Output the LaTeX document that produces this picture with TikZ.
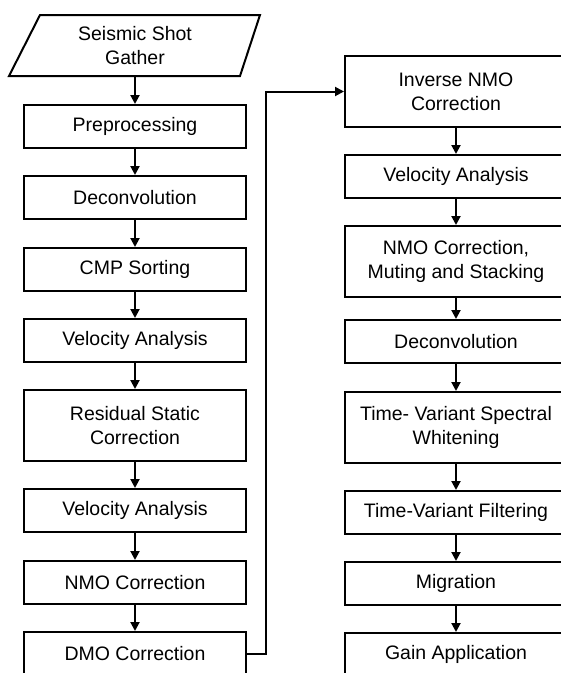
\documentclass[tikz,border=0pt]{standalone}
\usepackage{fontspec}
\setmainfont{Liberation Sans}
\usetikzlibrary{arrows.meta}
\begin{document}
\begin{tikzpicture}[x=1pt,y=-1pt,
  lbl/.style={align=center, inner sep=0pt, font=\fontsize{19.5}{24}\selectfont},
  stepbox/.style={lbl, draw, line width=2pt, minimum width=222pt, minimum height=43pt, anchor=north},
  tallbox/.style={stepbox, minimum height=71pt},
  flow/.style={line width=2pt, -{Triangle[length=9pt,width=9pt]}}]
\useasboundingbox (0,0) rectangle (561,673);
\clip (0,0) rectangle (561,673);

% input: seismic shot gather (parallelogram)
\draw[line width=2pt, line join=miter] (40,15) -- (260,15) -- (240,76) -- (9,76) -- cycle;
\node[lbl, minimum width=200pt, minimum height=61pt] (src) at (135,45.5) {Seismic Shot\\Gather};

% first processing sequence
\node[stepbox] (pre)  at (135,104) {Preprocessing};
\node[stepbox] (dec1) at (135,175) {Deconvolution};
\node[stepbox] (cmp)  at (135,247) {CMP Sorting};
\node[stepbox] (vel1) at (135,318) {Velocity Analysis};
\node[tallbox] (res)  at (135,389) {Residual Static\\Correction};
\node[stepbox] (vel2) at (135,488) {Velocity Analysis};
\node[stepbox] (nmo)  at (135,560) {NMO Correction};
\node[stepbox] (dmo)  at (135,631) {DMO Correction};

% second processing sequence
\node[tallbox] (inv)   at (456,55)  {Inverse NMO\\Correction};
\node[stepbox] (vel3)  at (456,154) {Velocity Analysis};
\node[tallbox] (stack) at (456,225) {NMO Correction,\\Muting and Stacking};
\node[stepbox] (dec2)  at (456,319) {Deconvolution};
\node[tallbox] (tvsw)  at (456,391) {Time- Variant Spectral\\Whitening};
\node[stepbox] (tvf)   at (456,490) {Time-Variant Filtering};
\node[stepbox] (mig)   at (456,561) {Migration};
\node[stepbox] (gain)  at (456,632) {Gain Application};

% connectors
\draw[flow] (src.south) -- (pre.north);
\foreach \a/\b in {pre/dec1, dec1/cmp, cmp/vel1, vel1/res, res/vel2, vel2/nmo, nmo/dmo,
                   inv/vel3, vel3/stack, stack/dec2, dec2/tvsw, tvsw/tvf, tvf/mig, mig/gain}
  \draw[flow] (\a.south) -- (\b.north);
\draw[flow] (dmo.east) -- ++(19,0) |- (inv.west);
\end{tikzpicture}
\end{document}
